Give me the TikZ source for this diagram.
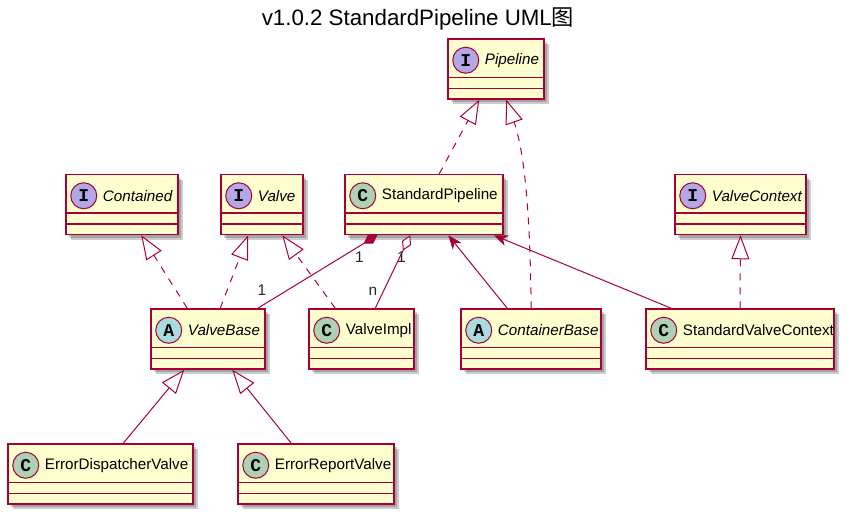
\documentclass[tikz,border=0pt]{standalone}
\usepackage{fontspec}
\setmainfont{Liberation Sans}
\setmonofont{Liberation Mono}
\newfontfamily\cjkfont{Noto Sans CJK SC}
\usetikzlibrary{calc,arrows.meta,shadows}
\definecolor{umlline}{HTML}{A80036}
\definecolor{umlfill}{HTML}{FEFECE}
\definecolor{spotC}{HTML}{ADD1B2}
\definecolor{spotI}{HTML}{B4A7E5}
\definecolor{spotA}{HTML}{A9DCDF}
\tikzset{
	umlbox/.style={draw=umlline, fill=umlfill, line width=1.5pt, minimum height=60pt, inner sep=0pt,
		general shadow={shadow xshift=3pt, shadow yshift=-3pt, fill=black, opacity=0.2},
		general shadow={shadow xshift=5pt, shadow yshift=-5pt, fill=black, opacity=0.2}},
	umlspot/.style={circle, draw=umlline, line width=1pt, minimum size=26pt, inner sep=0pt, font=\ttfamily\bfseries\fontsize{18}{18}\selectfont},
	umlname/.style={anchor=west, inner sep=0pt, text=black, font=\fontsize{15.2}{17}\selectfont},
	realize/.style={umlline, line width=1pt, dashed, dash pattern=on 7pt off 7pt, -{Triangle[length=24pt, width=18pt, fill=white]}},
	extend/.style={umlline, line width=1pt, -{Triangle[length=24pt, width=18pt, fill=white]}},
	compose/.style={umlline, line width=1pt, {Diamond[length=16pt, width=10pt]}-},
	aggregate/.style={umlline, line width=1pt, {Diamond[length=17pt, width=10pt, fill=white]}-},
	assoc/.style={umlline, line width=1pt, -{Stealth[length=14pt, width=11pt, inset=4pt]}},
	mult/.style={inner sep=0pt, text=black!85, font=\fontsize{15.4}{17}\selectfont}
}
% name, centre x, centre y, width, letter, spot colour, text font, text
\def\umlclass#1#2#3#4#5#6#7#8{
	\node[umlbox, minimum width=#4pt] (#1) at (#2, #3) {};
	\node[umlspot, fill=#6] (#1-spot) at ($(#1.north west)+(18.5, 22)$) {#5};
	\node[umlname] (#1-name) at ($(#1-spot.center)+(19, 0)$) {#7{}#8};
	\draw[umlline, line width=1.5pt] ($(#1.north west)+(0, 39)$) -- ($(#1.north east)+(0, 39)$);
	\draw[umlline, line width=1.5pt] ($(#1.north west)+(0, 50)$) -- ($(#1.north east)+(0, 50)$);
}

\begin{document}
\begin{tikzpicture}[x=1pt, y=-1pt]
			%%%%% START %%%%%
			\useasboundingbox (0, 0) rectangle (852, 520);
			
			\node[inner sep=0pt, font=\fontsize{22.3}{24}\selectfont] (title) at (418, 19) {v1.0.2 StandardPipeline UML{\cjkfont 图}};
			
			\umlclass{pipeline}{496}{69}{96}{I}{spotI}{\itshape}{Pipeline}
			
			\umlclass{contained}{122}{204.5}{112}{I}{spotI}{\itshape}{Contained}
			\umlclass{valve}{262}{204.5}{82}{I}{spotI}{\itshape}{Valve}
			\umlclass{stdpipeline}{424}{204.5}{158}{C}{spotC}{}{StandardPipeline}
			\umlclass{valvecontext}{740.5}{204.5}{131}{I}{spotI}{\itshape}{ValveContext}
			
			\umlclass{valvebase}{208}{339}{114}{A}{spotA}{\itshape}{ValveBase}
			\umlclass{valveimpl}{361.5}{339}{105}{C}{spotC}{}{ValveImpl}
			\umlclass{containerbase}{531}{339}{140}{A}{spotA}{\itshape}{ContainerBase}
			\umlclass{stdcontext}{740}{339}{188}{C}{spotC}{}{StandardValveContext}
			
			\umlclass{dispatcher}{100.5}{474}{185}{C}{spotC}{}{ErrorDispatcherValve}
			\umlclass{report}{316}{474}{156}{C}{spotC}{}{ErrorReportValve}
			
			\draw[realize] ($(stdpipeline.north west)+(95, 0)$) -- ($(pipeline.south west)+(32, 0)$);
			\draw[realize] ($(containerbase.north west)+(71, 0)$) .. controls ($(containerbase.north west)+(70, -70)$) and ($(pipeline.south west)+(80, 60)$) .. ($(pipeline.south west)+(59, 0)$);
			\draw[realize] ($(valvebase.north west)+(37, 0)$) -- ($(contained.south west)+(76, 0)$);
			\draw[realize] ($(valvebase.north west)+(70, 0)$) -- ($(valve.south west)+(28, 0)$);
			\draw[realize] ($(valveimpl.north west)+(27, 0)$) -- ($(valve.south west)+(62, 0)$);
			\draw[realize] (stdcontext.north) -- (valvecontext.south);
			
			\draw[compose] ($(stdpipeline.south west)+(33, 0)$) -- ($(valvebase.north east)+(-8, 0)$);
			\draw[aggregate] ($(stdpipeline.south west)+(66, 0)$) -- ($(valveimpl.north west)+(67, 0)$);
			\draw[assoc] ($(containerbase.north west)+(47, 0)$) -- ($(stdpipeline.south west)+(104, 0)$);
			\draw[assoc] ($(stdcontext.north west)+(26, 0)$) -- ($(stdpipeline.south east)+(-10, 0)$);
			
			\draw[extend] ($(dispatcher.north west)+(116, 0)$) -- ($(valvebase.south west)+(34, 0)$);
			\draw[extend] ($(report.north west)+(54, 0)$) -- ($(valvebase.south west)+(82, 0)$);
			
			\node[mult] (mult-a) at (359.5, 257) {1};
			\node[mult] (mult-b) at (262, 290) {1};
			\node[mult] (mult-c) at (401.5, 257) {1};
			\node[mult] (mult-d) at (373, 291) {n};
			
			%%%%% END %%%%%
		\end{tikzpicture}
\end{document}
